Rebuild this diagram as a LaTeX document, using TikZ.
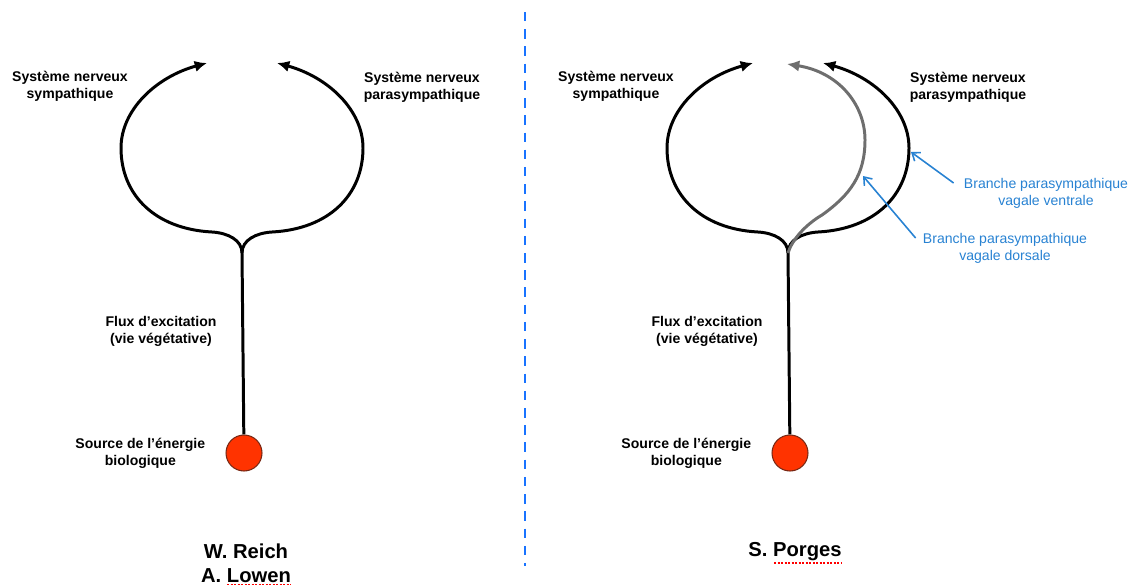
\documentclass[tikz,border=0pt]{standalone}
\usepackage{fontspec}
\setmainfont{Liberation Sans}
\usetikzlibrary{arrows.meta,positioning}
\definecolor{vagalblue}{RGB}{40,130,210}
\definecolor{sepblue}{RGB}{25,115,255}
\definecolor{sourcered}{RGB}{255,51,0}
\definecolor{dorsalgray}{RGB}{110,110,110}

\begin{document}
\begin{tikzpicture}[x=0.02cm, y=-0.02cm, >={Latex[length=7pt,width=6.5pt]},
        nerf/.style={line width=1.7pt},
        lbl/.style={font=\fontsize{8}{9.6}\selectfont\bfseries, align=center, inner sep=0},
        vlbl/.style={font=\fontsize{8}{9.6}\selectfont, text=vagalblue, align=center, inner sep=0},
        vagal/.style={draw=vagalblue, line width=0.9pt, -{Straight Barb[length=4pt,width=6pt]}},
        source/.style={circle, fill=sourcered, draw={rgb,255:red,120;green,40;blue,20}, line width=0.6pt, minimum size=0.72cm, inner sep=0},
        auteur/.style={font=\fontsize{11.5}{13.6}\selectfont\bfseries, align=center, inner sep=0},
        spell/.style={red, line width=0.8pt, dash pattern=on 1.2pt off 0.8pt}]
    \useasboundingbox (0,0) rectangle (1132,585);

    % separation
    \coordinate (sepT) at (525,12);
    \coordinate (sepB) at (525,566);
    \draw[sepblue, line width=1.2pt, dash pattern=on 5.4pt off 4.4pt] (sepT) -- (sepB);

    % the two schemes
    \foreach \s/\o in {A/0,B/546}{
    \begin{scope}[shift={(\o,0)}]
        \coordinate (j\s) at (242,253);
        \coordinate (ts\s) at (207,63);
        \coordinate (tp\s) at (277,63);
        \node[source] (src\s) at (244,453) {};
        \node[lbl] (sym\s) at (70,86) {Système nerveux\\sympathique};
        \node[lbl] (para\s) at (422,87) {Système nerveux\\parasympathique};
        \node[lbl] (flux\s) at (161,331) {Flux d’excitation\\(vie végétative)};
        \node[lbl] (ener\s) [left=0.4cm of src\s] {Source de l’énergie\\biologique};
        \draw[nerf] (j\s) -- (src\s);
        \draw[nerf,->] (j\s) .. controls (242,240) and (228,233) .. (212,232)
            .. controls (155,229) and (121,195) .. (121,148)
            .. controls (121,110) and (156,77) .. (ts\s);
        \draw[nerf,->] (j\s) .. controls (242,240) and (256,233) .. (272,232)
            .. controls (329,229) and (363,195) .. (363,148)
            .. controls (363,110) and (328,77) .. (tp\s);
    \end{scope}
    }

    % dorsal branch (Porges)
    \coordinate (tg) at (787,64);
    \draw[nerf,dorsalgray,->] (jB) .. controls (792,240) and (805,225) .. (822,215)
        .. controls (850,195) and (865,175) .. (865,140)
        .. controls (865,104) and (838,72) .. (tg);

    \node[vlbl] (vent) at (1046,193) {Branche parasympathique\\vagale ventrale};
    \node[vlbl] (dors) at (1005,248) {Branche parasympathique\\vagale dorsale};
    \coordinate (vtip) at (911,152);
    \coordinate (dtip) at (863,176);
    \draw[vagal] ([shift={(-10,-10)}]vent.west) -- (vtip);
    \draw[vagal] ([shift={(-7,-10)}]dors.west) -- (dtip);

    % authors
    \node[auteur] (reich) at (246,563) {W. Reich\\A. Lowen};
    \node[auteur] (porges) at (795,552) {S. Porges};
    \draw[spell] ([shift={(-19,1.5)}]reich.south) -- ([shift={(45,1.5)}]reich.south);
    \draw[spell] ([shift={(-21,1.5)}]porges.south) -- ([shift={(46,1.5)}]porges.south);
\end{tikzpicture}
\end{document}
